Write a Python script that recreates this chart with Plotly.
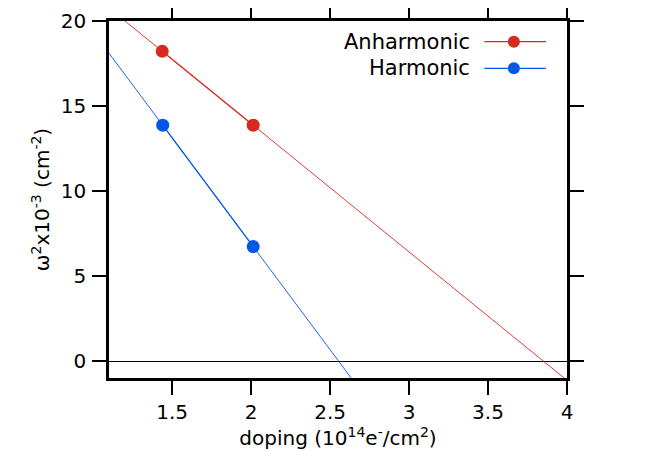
import numpy as np
import plotly.graph_objects as go

# ---- data ----
series_names = ["Anharmonic", "Harmonic"]
doping_anh = [1.437, 2.013]
omega2_anh = [18.22, 13.87]
doping_harm = [1.44, 2.013]
omega2_harm = [13.87, 6.73]
x_ticks = [1.5, 2, 2.5, 3, 3.5, 4]
x_tick_labels = ["1.5", "2", "2.5", "3", "3.5", "4"]
y_ticks = [0, 5, 10, 15, 20]
x_range = [1.1, 4.0]
y_range = [-1, 20]

RED = "#d8291f"
BLUE = "#0457e6"
FONT = "DejaVu Sans"

fig = go.Figure()

for xs, ys, col in [(doping_anh, omega2_anh, RED), (doping_harm, omega2_harm, BLUE)]:
    m, b = np.polyfit(xs, ys, 1)
    fx = np.array(x_range)
    fig.add_trace(go.Scatter(x=fx, y=m * fx + b, mode="lines",
                             line=dict(color=col, width=0.9), showlegend=False,
                             hoverinfo="skip"))

for name, xs, ys, col in [(series_names[0], doping_anh, omega2_anh, RED),
                          (series_names[1], doping_harm, omega2_harm, BLUE)]:
    fig.add_trace(go.Scatter(x=xs, y=ys, mode="lines+markers", name=name,
                             line=dict(color=col, width=1.2),
                             marker=dict(color=col, size=13), showlegend=False,
                             cliponaxis=False))

axis_common = dict(showline=True, linecolor="black", linewidth=2.5, mirror="ticks",
                   ticks="outside", ticklen=14, tickwidth=2, tickcolor="black",
                   showgrid=False, automargin=False,
                   tickfont=dict(family=FONT, size=20, color="black"))

fig.update_xaxes(range=x_range, tickvals=x_ticks, ticktext=x_tick_labels,
                 zeroline=False,
                 title=dict(text="doping (10<sup>14</sup>e<sup>-</sup>/cm<sup>2</sup>)",
                            font=dict(family=FONT, size=20, color="black"), standoff=2),
                 **axis_common)
fig.update_yaxes(range=y_range, tickvals=y_ticks, ticklabelstandoff=2,
                 zeroline=True, zerolinecolor="black", zerolinewidth=1,
                 title=dict(text="ω<sup>2</sup>x10<sup>-3</sup> (cm<sup>-2</sup>)",
                            font=dict(family=FONT, size=20, color="black"), standoff=6),
                 **axis_common)

# custom legend (text left of symbol)
legend_rows = [(series_names[0], RED, 0.942), (series_names[1], BLUE, 0.8675)]
for name, col, yy in legend_rows:
    fig.add_annotation(x=0.792, y=yy, xref="paper", yref="paper", text=name,
                       showarrow=False, xanchor="right", yanchor="middle",
                       font=dict(family=FONT, size=21, color="black"))
    fig.add_shape(type="line", xref="paper", yref="paper", x0=0.8195, x1=0.954,
                  y0=yy, y1=yy, line=dict(color=col, width=1.2))
    fig.add_shape(type="circle", xref="paper", yref="paper",
                  xsizemode="pixel", ysizemode="pixel",
                  xanchor=0.884, yanchor=yy, x0=-6, x1=6, y0=-6, y1=6,
                  fillcolor=col, line=dict(color=col, width=0))

fig.update_layout(width=644, height=443, margin=dict(l=101, r=85, t=13, b=73),
                  plot_bgcolor="white", paper_bgcolor="white",
                  font=dict(family=FONT, color="black"))

fig.write_html("out.html")
